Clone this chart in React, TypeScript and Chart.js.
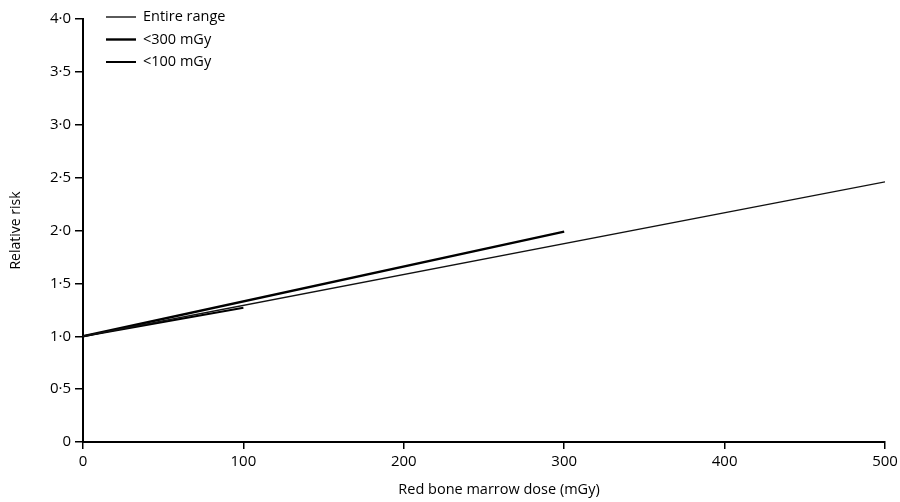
import React, { useEffect, useRef } from "react";
import { Chart, registerables } from "chart.js";

Chart.register(...registerables);

const seriesLabels = ["Entire range", "<300 mGy", "<100 mGy"];
const doseEntire = [0, 500];
const rrEntire = [1.0, 2.46];
const dose300 = [0, 300];
const rr300 = [1.0, 1.99];
const dose100 = [0, 100];
const rr100 = [1.0, 1.27];
const xTicks = [0, 100, 200, 300, 400, 500];
const yTicks = [0, 0.5, 1.0, 1.5, 2.0, 2.5, 3.0, 3.5, 4.0];
const xTitle = "Red bone marrow dose (mGy)";
const yTitle = "Relative risk";

const FONT = "'Open Sans', 'DejaVu Sans', sans-serif";

const fmtY = (v: number) => (v === 0 ? "0" : v.toFixed(1).replace(".", "\u00B7"));

const overlayPlugin = {
  id: "overlay",
  afterDraw(chart: any) {
    const ctx = chart.ctx;
    ctx.save();
    chart.data.datasets.forEach((ds: any, i: number) => {
      const y = 17 + i * 22.5;
      ctx.strokeStyle = "#000";
      ctx.lineWidth = ds.borderWidth;
      ctx.beginPath();
      ctx.moveTo(106, y);
      ctx.lineTo(136, y);
      ctx.stroke();
      ctx.fillStyle = "#000";
      ctx.font = `14.5px ${FONT}`;
      ctx.textBaseline = "middle";
      ctx.textAlign = "left";
      ctx.fillText(ds.label, 143, y);
    });
    ctx.font = `14.5px ${FONT}`;
    ctx.textAlign = "center";
    ctx.textBaseline = "middle";
    ctx.fillText(xTitle, 499, 490);
    ctx.restore();
  },
};

export default function App() {
  const ref = useRef<HTMLCanvasElement>(null);
  useEffect(() => {
    document.body.style.margin = "0";
    const toPts = (xs: number[], ys: number[]) => xs.map((x, i) => ({ x, y: ys[i] }));
    const chart = new Chart(ref.current!, {
      type: "scatter",
      data: {
        datasets: [
          { label: seriesLabels[0], data: toPts(doseEntire, rrEntire), showLine: true, borderColor: "#111", borderWidth: 1.3, pointRadius: 0 },
          { label: seriesLabels[1], data: toPts(dose300, rr300), showLine: true, borderColor: "#000", borderWidth: 2.4, pointRadius: 0 },
          { label: seriesLabels[2], data: toPts(dose100, rr100), showLine: true, borderColor: "#000", borderWidth: 2, pointRadius: 0 },
        ],
      },
      options: {
        animation: false,
        responsive: false,
        layout: { padding: { left: 0, top: 19, right: 15, bottom: 0 } },
        plugins: { legend: { display: false }, tooltip: { enabled: false } },
        scales: {
          x: {
            type: "linear",
            min: 0,
            max: 500,
            afterBuildTicks: (s: any) => { s.ticks = xTicks.map((v) => ({ value: v })); },
            afterFit: (s: any) => { s.height = 60; s.paddingRight = 0; s.paddingLeft = 0; },
            ticks: { color: "#000", font: { family: FONT, size: 15 }, padding: 4, maxRotation: 0 },
            grid: { display: true, drawOnChartArea: false, drawTicks: true, tickLength: 7, color: "#000", lineWidth: 1.5 },
            border: { display: true, color: "#000", width: 2 },
            title: { display: false },
          },
          y: {
            type: "linear",
            min: 0,
            max: 4,
            afterBuildTicks: (s: any) => { s.ticks = yTicks.map((v) => ({ value: v })); },
            afterFit: (s: any) => { s.width = 83; s.paddingTop = 0; s.paddingBottom = 0; },
            ticks: { color: "#000", font: { family: FONT, size: 15 }, padding: 4, callback: (v: any) => fmtY(Number(v)) },
            grid: { display: true, drawOnChartArea: false, drawTicks: true, tickLength: 8, color: "#000", lineWidth: 1.5 },
            border: { display: true, color: "#000", width: 2 },
            title: { display: true, text: yTitle, color: "#000", font: { family: FONT, size: 14 }, padding: { top: 8, bottom: 10 } },
          },
        },
      },
      plugins: [overlayPlugin],
    } as any);
    return () => chart.destroy();
  }, []);
  return (
    <div style={{ width: 900, height: 502, background: "#fff" }}>
      <canvas ref={ref} width={900} height={502} style={{ display: "block" }} />
    </div>
  );
}
